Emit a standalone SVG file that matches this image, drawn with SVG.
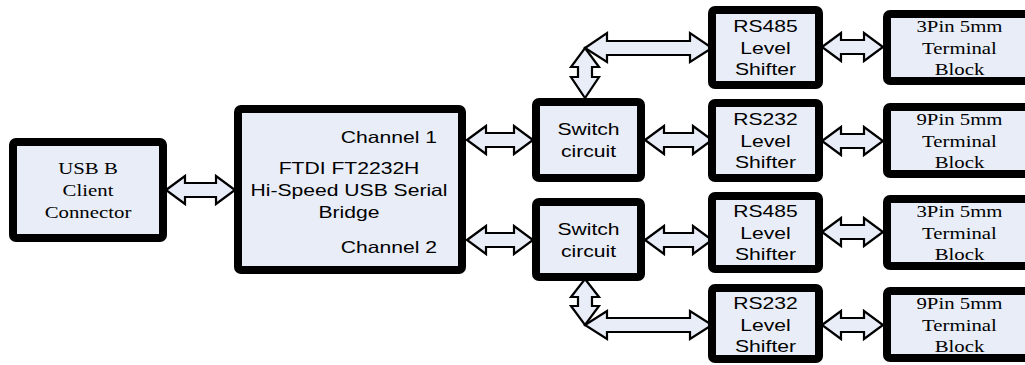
<svg xmlns="http://www.w3.org/2000/svg" width="1025" height="365" viewBox="0 0 1025 365">
<style>
.box{fill:#e8edf7;stroke:#000;stroke-width:8;stroke-linejoin:round}
.arr{fill:#e8edf7;stroke:#000;stroke-width:2.2;stroke-linejoin:miter}
.s{font-family:"Liberation Sans",Arial,sans-serif;font-size:16.5px;fill:#000;text-anchor:middle}
.r{font-family:"Liberation Serif","Times New Roman",serif;font-size:16px;fill:#000;text-anchor:middle}
.e{text-anchor:end}
</style>
<rect width="1025" height="365" fill="#fff"/>
<g id="connectors">
<polygon class="arr" points="166,190 185,176 185,183 216,183 216,176 235,190 216,204 216,197 185,197 185,204"/>
<polygon class="arr" points="467,140 486,126 486,133 514,133 514,126 533,140 514,154 514,147 486,147 486,154"/>
<polygon class="arr" points="467,240 486,226 486,233 514,233 514,226 533,240 514,254 514,247 486,247 486,254"/>
<polygon class="arr" points="645,140 664,126 664,133 693,133 693,126 712,140 693,154 693,147 664,147 664,154"/>
<polygon class="arr" points="645,240 664,226 664,233 693,233 693,226 712,240 693,254 693,247 664,247 664,254"/>
<polygon class="arr" points="585,48 599,67 592,67 592,77 599,77 585,98 571,77 578,77 578,67 571,67"/>
<polygon class="arr" points="585,48 607,33 607,41 690,41 690,33 712,48 690,62 690,55 607,55 607,62"/>
<polygon class="arr" points="585,279 599,297 592,297 592,306 599,306 585,325 571,306 578,306 578,297 571,297"/>
<polygon class="arr" points="585,325 607,311 607,318 690,318 690,311 712,325 690,339 690,332 607,332 607,339"/>
<polygon class="arr" points="822,47 841,33 841,40 864,40 864,33 883,47 864,61 864,54 841,54 841,61"/>
<polygon class="arr" points="822,141 841,127 841,134 864,134 864,127 883,141 864,155 864,148 841,148 841,155"/>
<polygon class="arr" points="822,232 841,218 841,225 864,225 864,218 883,232 864,246 864,239 841,239 841,246"/>
<polygon class="arr" points="822,325 841,311 841,318 864,318 864,311 883,325 864,339 864,332 841,332 841,339"/>
</g>
<g id="usb">
<rect class="box" x="13" y="142" width="150" height="96" rx="3"/>
<text class="r" transform="translate(88,174) scale(1.3,1)">USB B</text>
<text class="r" transform="translate(88,196) scale(1.3,1)">Client</text>
<text class="r" transform="translate(88,218) scale(1.3,1)">Connector</text>
</g>
<g id="ftdi">
<rect class="box" x="238" y="109" width="224" height="161" rx="3"/>
<text class="s e" transform="translate(437,143) scale(1.28,1)">Channel 1</text>
<text class="s" transform="translate(349,174) scale(1.28,1)">FTDI FT2232H</text>
<text class="s" transform="translate(349,196) scale(1.28,1)">Hi-Speed USB Serial</text>
<text class="s" transform="translate(349,218) scale(1.28,1)">Bridge</text>
<text class="s e" transform="translate(437,253) scale(1.28,1)">Channel 2</text>
</g>
<g id="switch1">
<rect class="box" x="536" y="102" width="105" height="76" rx="3"/>
<text class="s" transform="translate(588.5,135) scale(1.28,1)">Switch</text>
<text class="s" transform="translate(588.5,157) scale(1.28,1)">circuit</text>
</g>
<g id="switch2">
<rect class="box" x="536" y="202" width="105" height="75" rx="3"/>
<text class="s" transform="translate(588.5,235) scale(1.28,1)">Switch</text>
<text class="s" transform="translate(588.5,257) scale(1.28,1)">circuit</text>
</g>
<g id="rs485a">
<rect class="box" x="712" y="10" width="107" height="75" rx="3"/>
<text class="s" transform="translate(765.5,32) scale(1.28,1)">RS485</text>
<text class="s" transform="translate(765.5,53.5) scale(1.28,1)">Level</text>
<text class="s" transform="translate(765.5,75) scale(1.28,1)">Shifter</text>
</g>
<g id="rs232a">
<rect class="box" x="712" y="103" width="107" height="75" rx="3"/>
<text class="s" transform="translate(765.5,125) scale(1.28,1)">RS232</text>
<text class="s" transform="translate(765.5,146.5) scale(1.28,1)">Level</text>
<text class="s" transform="translate(765.5,168) scale(1.28,1)">Shifter</text>
</g>
<g id="rs485b">
<rect class="box" x="712" y="196" width="107" height="73" rx="3"/>
<text class="s" transform="translate(765.5,217) scale(1.28,1)">RS485</text>
<text class="s" transform="translate(765.5,238.5) scale(1.28,1)">Level</text>
<text class="s" transform="translate(765.5,260) scale(1.28,1)">Shifter</text>
</g>
<g id="rs232b">
<rect class="box" x="712" y="288" width="107" height="71" rx="3"/>
<text class="s" transform="translate(765.5,309) scale(1.28,1)">RS232</text>
<text class="s" transform="translate(765.5,330.5) scale(1.28,1)">Level</text>
<text class="s" transform="translate(765.5,352) scale(1.28,1)">Shifter</text>
</g>
<g id="term3a">
<rect class="box" x="887" y="14" width="150" height="67" rx="3"/>
<text class="r" transform="translate(959.5,32) scale(1.3,1)">3Pin 5mm</text>
<text class="r" transform="translate(959.5,53.5) scale(1.3,1)">Terminal</text>
<text class="r" transform="translate(959.5,75) scale(1.3,1)">Block</text>
</g>
<g id="term9a">
<rect class="box" x="887" y="107" width="150" height="67" rx="3"/>
<text class="r" transform="translate(959.5,125) scale(1.3,1)">9Pin 5mm</text>
<text class="r" transform="translate(959.5,146.5) scale(1.3,1)">Terminal</text>
<text class="r" transform="translate(959.5,168) scale(1.3,1)">Block</text>
</g>
<g id="term3b">
<rect class="box" x="887" y="199" width="150" height="67" rx="3"/>
<text class="r" transform="translate(959.5,217) scale(1.3,1)">3Pin 5mm</text>
<text class="r" transform="translate(959.5,238.5) scale(1.3,1)">Terminal</text>
<text class="r" transform="translate(959.5,260) scale(1.3,1)">Block</text>
</g>
<g id="term9b">
<rect class="box" x="887" y="291" width="150" height="67" rx="3"/>
<text class="r" transform="translate(959.5,309) scale(1.3,1)">9Pin 5mm</text>
<text class="r" transform="translate(959.5,330.5) scale(1.3,1)">Terminal</text>
<text class="r" transform="translate(959.5,352) scale(1.3,1)">Block</text>
</g>
</svg>
